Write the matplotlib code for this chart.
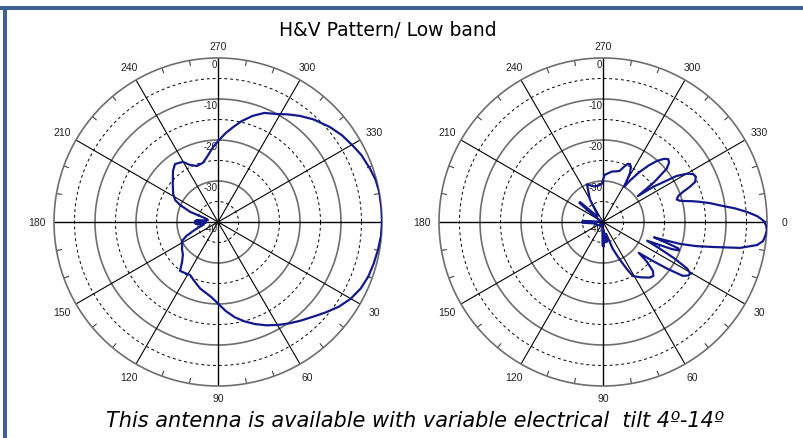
import numpy as np
import matplotlib
matplotlib.use("Agg")
import matplotlib.pyplot as plt
from matplotlib.patches import Rectangle

# ---------------- data ----------------
title_text = "H&V Pattern/ Low band"
footer_text = "This antenna is available with variable electrical  tilt 4º-14º"

angle_ticks = [0, 30, 60, 90, 120, 150, 180, 210, 240, 270, 300, 330]
angle_labels = ["0", "30", "60", "90", "120", "150", "180", "210", "240", "270", "300", "330"]
radial_ticks = [0, -10, -20, -30, -40]
radial_labels = ["0", "-10", "-20", "-30", "-40"]

# Horizontal pattern (left): angle in degrees, relative gain in dB
h_angles = [0, 5, 10, 15, 20, 25, 30, 35, 40, 45, 50, 55, 60, 65, 70, 75, 80, 85, 90,
            95, 100, 105, 112, 117.8, 122, 127.8, 132, 137, 143, 148, 152, 156, 160,
            165, 170, 174, 176, 177, 178, 179, 180, 181, 182, 183, 184, 186, 190, 195,
            200, 204, 207, 212, 220, 228.6, 233.4, 239.7, 243.8, 249.4, 255.7, 260.4,
            266.2, 271, 275, 279, 283, 288, 293, 298.6, 303, 307.7, 313, 319.7, 325,
            330.6, 335, 340.8, 345, 349.5, 355]
h_gain = [0, -0.1, -0.4, -0.7, -1.0, -1.6, -2.6, -4.0, -5.7, -7.3, -8.6, -9.8, -11.0,
          -12.2, -13.5, -14.9, -16.4, -18.2, -20.1, -21.6, -22.5, -23.2, -24.5, -25.4,
          -25.2, -24.9, -26.9, -28.3, -29.0, -29.7, -30.0, -31.5, -33.5, -35.3, -36.5,
          -35.0, -34.5, -37.0, -34.3, -37.0, -34.3, -37.0, -34.4, -37.0, -34.6, -36.5,
          -37.5, -37.2, -32.8, -30.0, -28.3, -27.1, -25.6, -23.4, -22.4, -23.0, -24.5,
          -25.4, -25.1, -23.9, -21.7, -19.9, -18.2, -16.6, -14.8, -12.8, -11.1, -10.0,
          -8.7, -7.3, -5.8, -4.2, -3.1, -2.2, -1.4, -0.7, -0.2, 0, 0]

# Vertical pattern (right)
v_angles = [0, 1.5, 3, 5, 6.8, 8.5, 10.7, 12.8, 14.5, 15.9, 16.8, 18, 19.3, 20.5, 21.5,
            23, 25, 27, 29, 30.5, 32, 34, 36, 38, 40.8, 42, 44.5, 47, 50, 55, 61, 63,
            66, 70, 75, 80, 85, 88, 91, 94, 100, 120, 150, 170, 178, 180, 183, 186, 200,
            215, 219, 221, 224, 232, 240, 247, 255, 262, 268, 272, 280, 285, 288, 291,
            293, 295, 297, 299, 301, 303, 306, 309, 311.5, 314, 316, 318, 320, 322,
            323.4, 325, 328, 330, 332, 334, 336.5, 338, 339.4, 341, 343, 344.5, 345.6,
            347, 348.3, 350, 352.4, 354, 356, 357.8, 359]
v_gain = [-0.6, -0.15, 0, -0.3, -0.7, -2.0, -6.0, -12.5, -16.5, -20.5, -27.0, -24.0,
          -20.5, -20.2, -22.0, -28.3, -25.0, -20.5, -16.5, -15.3, -15.4, -16.5, -20.6,
          -24.5, -28.5, -25.7, -22.9, -22.0, -22.3, -23.5, -24.9, -27.0, -30.0, -33.0,
          -37.0, -35.0, -38.0, -34.0, -34.2, -38.0, -39.5, -39.0, -38.5, -38.0, -35.0,
          -35.0, -35.0, -39.0, -39.5, -37.0, -32.6, -32.6, -38.0, -38.0, -33.6, -30.0,
          -31.0, -31.1, -30.7, -28.5, -27.5, -27.2, -26.9, -25.5, -24.6, -24.4, -25.0,
          -26.5, -30.0, -28.0, -25.0, -22.2, -20.1, -18.6, -17.9, -18.3, -19.7, -24.0,
          -29.4, -25.0, -18.8, -16.5, -15.1, -14.8, -15.5, -17.2, -19.2, -20.6, -21.2,
          -20.6, -19.4, -17.5, -15.8, -13.5, -10.5, -7.8, -4.8, -2.4, -1.3]

# ---------------- layout ----------------
W, H = 804, 439
R_PX = 164
RMIN, RMAX = -40, 0
LINE_COLOR = "#13198a"
BORDER_COLOR = "#3e6293"

fig = plt.figure(figsize=(W / 100, H / 100), dpi=100)
fig.patch.set_facecolor("white")

# border frame (top and left)
fig.patches.append(Rectangle((0, 1 - 11 / H), 1, 4 / H, transform=fig.transFigure,
                             facecolor=BORDER_COLOR, edgecolor="none"))
fig.patches.append(Rectangle((3 / W, 0), 4 / W, 1 - 7 / H, transform=fig.transFigure,
                             facecolor=BORDER_COLOR, edgecolor="none"))


def px_to_r(px):
    return RMIN + px * (RMAX - RMIN) / R_PX


def make_polar(cx, cy, angles, gains, show_zero_label=True):
    ax = fig.add_axes([(cx - R_PX) / W, 1 - (cy + R_PX) / H, 2 * R_PX / W, 2 * R_PX / H],
                      projection="polar")
    ax.set_theta_zero_location("E")
    ax.set_theta_direction(-1)
    ax.set_ylim(RMIN, RMAX)
    ax.grid(False)
    ax.set_xticks([])
    ax.set_yticks([])
    ax.spines["polar"].set_color("#6e6e6e")
    ax.spines["polar"].set_linewidth(1.2)

    full = np.linspace(0, 2 * np.pi, 361)
    for rv in [-35, -25, -15, -5]:
        ax.plot(full, np.full_like(full, rv), color="black", lw=0.7,
                linestyle=(0, (3, 3)), zorder=1)
    for rv in [-30, -20, -10]:
        ax.plot(full, np.full_like(full, rv), color="#6e6e6e", lw=1.2, zorder=1)
    for a in range(0, 360, 30):
        t = np.deg2rad(a)
        ax.plot([t, t], [RMIN, RMAX], color="black", lw=0.8 if a % 90 else 1.0, zorder=1)
    for a in range(0, 360, 10):
        if a % 30:
            t = np.deg2rad(a)
            ax.plot([t, t], [px_to_r(R_PX - 5), RMAX], color="#444444", lw=0.8, zorder=1)

    # angle labels with the small anchor mark at their upper left
    for a, lab in zip(angle_ticks, angle_labels):
        if a == 0 and not show_zero_label:
            continue
        t = np.deg2rad(a)
        rpx = 176 + 5 * abs(np.cos(t))
        ax.text(t, px_to_r(rpx), lab, ha="center", va="center", fontsize=7.5,
                family="Liberation Sans", color="#222222")
        half_w = 2.9 * len(lab) + 2.5
        ax.annotate("'", xy=(t, px_to_r(rpx)), xytext=(-half_w * 0.72, 2.0),
                    textcoords="offset points", ha="center", va="center",
                    fontsize=4.5, color="#555555", family="Liberation Sans")
    # radial labels
    for rv, lab in zip(radial_ticks, radial_labels):
        ax.annotate(lab, xy=(np.deg2rad(270), rv), xytext=(-0.5, -0.8),
                    textcoords="offset points", ha="right", va="top", fontsize=7,
                    family="Liberation Sans", color="#222222", zorder=3)

    th = np.deg2rad(list(angles) + [angles[0]])
    rr = list(gains) + [gains[0]]
    ax.plot(th, rr, color=LINE_COLOR, lw=1.6, zorder=4, solid_joinstyle="round")
    return ax


make_polar(218, 223, h_angles, h_gain, show_zero_label=False)
make_polar(603, 223, v_angles, v_gain, show_zero_label=True)

fig.text(387.5 / W, 1 - 31 / H, title_text, ha="center", va="center", fontsize=13.5,
         family="DejaVu Sans", color="black")
fig.text(415 / W, 1 - 421 / H, footer_text, ha="center", va="center", fontsize=15,
         family="DejaVu Sans", style="italic", color="black")

fig.savefig("out.png", dpi=100, facecolor="white")
